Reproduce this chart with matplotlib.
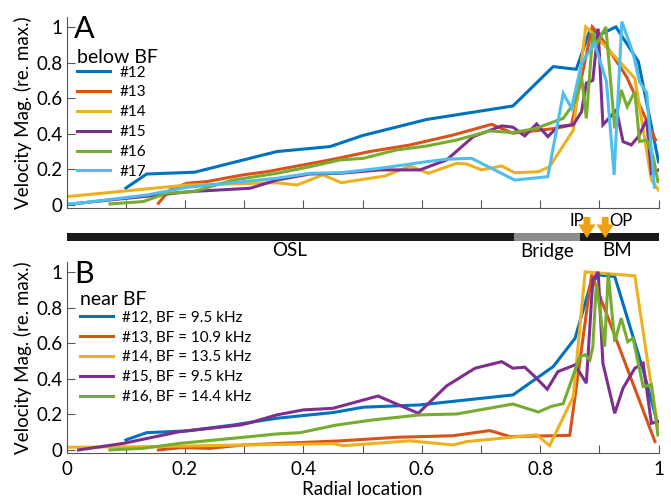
import numpy as np
import matplotlib
matplotlib.use("Agg")
import matplotlib.pyplot as plt

plt.rcParams['font.family'] = ['Lato', 'DejaVu Sans']

# ---------------------------------------------------------------
# Colours (MATLAB default order)
# ---------------------------------------------------------------
colors = ["#0072BD", "#D95319", "#EDB120", "#7E2F8E", "#77AC30", "#4DBEEE"]

# ---------------------------------------------------------------
# Panel A: below BF
# ---------------------------------------------------------------
labels_a = ["#12", "#13", "#14", "#15", "#16", "#17"]

x_a12 = [0.10, 0.135, 0.216, 0.355, 0.445, 0.50, 0.608, 0.754, 0.822, 0.861, 0.884, 0.90, 0.928, 0.966, 1.0]
y_a12 = [0.095, 0.174, 0.184, 0.30, 0.328, 0.39, 0.48, 0.556, 0.777, 0.762, 0.98, 0.955, 1.0, 0.805, 0.243]

x_a13 = [0.155, 0.174, 0.203, 0.236, 0.298, 0.338, 0.445, 0.512, 0.58, 0.653, 0.718, 0.754, 0.828, 0.853, 0.888, 0.90, 0.946, 0.995]
y_a13 = [0.01, 0.084, 0.122, 0.131, 0.169, 0.187, 0.253, 0.30, 0.337, 0.393, 0.453, 0.403, 0.431, 0.45, 1.0, 0.955, 0.72, 0.365]

x_a14 = [0.0, 0.203, 0.355, 0.389, 0.433, 0.464, 0.538, 0.58, 0.611, 0.659, 0.676, 0.701, 0.735, 0.757, 0.797,
         0.816, 0.856, 0.877, 0.895, 0.96, 0.988, 1.0]
y_a14 = [0.047, 0.112, 0.125, 0.112, 0.169, 0.125, 0.163, 0.219, 0.178, 0.234, 0.230, 0.197, 0.219, 0.181, 0.187,
         0.215, 0.42, 1.0, 0.946, 0.712, 0.14, 0.084]

x_a15 = [0.02, 0.129, 0.208, 0.31, 0.355, 0.411, 0.462, 0.529, 0.597, 0.642, 0.687, 0.735, 0.754, 0.774, 0.794,
         0.813, 0.83, 0.856, 0.87, 0.878, 0.889, 0.898, 0.906, 0.929, 0.94, 0.954, 0.966, 0.98, 0.988, 1.0]
y_a15 = [0.01, 0.047, 0.075, 0.094, 0.14, 0.174, 0.178, 0.197, 0.197, 0.253, 0.384, 0.444, 0.437, 0.388, 0.455,
         0.384, 0.44, 0.45, 0.524, 0.684, 0.70, 0.99, 0.45, 0.534, 0.356, 0.337, 0.384, 0.478, 0.178, 0.197]

x_a16 = [0.073, 0.129, 0.169, 0.214, 0.281, 0.355, 0.411, 0.462, 0.501, 0.557, 0.608, 0.659, 0.715, 0.754, 0.794,
         0.839, 0.859, 0.87, 0.878, 0.889, 0.895, 0.911, 0.926, 0.937, 0.947, 0.96, 0.968, 0.98, 0.991, 0.999]
y_a16 = [0.006, 0.019, 0.066, 0.075, 0.14, 0.178, 0.215, 0.253, 0.262, 0.309, 0.331, 0.365, 0.416, 0.406, 0.431,
         0.487, 0.58, 0.72, 0.487, 0.965, 0.90, 1.0, 0.43, 0.646, 0.552, 0.637, 0.356, 0.365, 0.271, 0.131]

x_a17 = [0.0, 0.022, 0.135, 0.203, 0.355, 0.411, 0.462, 0.529, 0.608, 0.642, 0.684, 0.757, 0.813, 0.839, 0.853,
         0.87, 0.892, 0.912, 0.925, 0.938, 0.957, 0.968, 0.98, 0.993]
y_a17 = [0.006, 0.01, 0.056, 0.099, 0.15, 0.178, 0.181, 0.206, 0.243, 0.257, 0.262, 0.14, 0.159, 0.627, 0.543,
         0.796, 0.908, 0.693, 0.169, 1.03, 0.852, 0.693, 0.63, 0.10]

# ---------------------------------------------------------------
# Panel B: near BF
# ---------------------------------------------------------------
labels_b = ["#12, BF = 9.5 kHz", "#13, BF = 10.9 kHz", "#14, BF = 13.5 kHz",
            "#15, BF = 9.5 kHz", "#16, BF = 14.4 kHz"]

x_b12 = [0.10, 0.135, 0.203, 0.281, 0.355, 0.411, 0.45, 0.501, 0.597, 0.754, 0.822, 0.859, 0.884, 0.898, 0.926,
         0.974, 0.996]
y_b12 = [0.056, 0.097, 0.107, 0.14, 0.178, 0.197, 0.21, 0.24, 0.253, 0.309, 0.468, 0.627, 0.917, 0.983, 0.974,
         0.45, 0.178]

x_b13 = [0.155, 0.194, 0.242, 0.298, 0.462, 0.557, 0.653, 0.715, 0.749, 0.85, 0.887, 0.994]
y_b13 = [0.0, 0.013, 0.009, 0.028, 0.051, 0.071, 0.08, 0.109, 0.075, 0.082, 0.985, 0.047]

x_b14 = [0.0, 0.152, 0.298, 0.45, 0.467, 0.58, 0.653, 0.676, 0.794, 0.816, 0.856, 0.876, 0.96, 0.982, 0.999]
y_b14 = [0.015, 0.019, 0.028, 0.035, 0.024, 0.051, 0.028, 0.047, 0.085, 0.024, 0.30, 1.0, 0.978, 0.487, 0.131]

x_b15 = [0.02, 0.096, 0.191, 0.293, 0.31, 0.355, 0.40, 0.45, 0.526, 0.594, 0.642, 0.69, 0.735, 0.754, 0.774,
         0.791, 0.812, 0.83, 0.859, 0.878, 0.889, 0.898, 0.906, 0.926, 0.94, 0.96, 0.974, 0.988, 0.999]
y_b15 = [0.0, 0.037, 0.103, 0.14, 0.153, 0.197, 0.225, 0.234, 0.303, 0.206, 0.36, 0.459, 0.496, 0.459, 0.465,
         0.412, 0.341, 0.44, 0.478, 0.375, 0.955, 1.0, 0.487, 0.206, 0.347, 0.459, 0.487, 0.15, 0.159]

x_b16 = [0.073, 0.129, 0.191, 0.298, 0.355, 0.394, 0.456, 0.518, 0.597, 0.659, 0.754, 0.797, 0.819, 0.839, 0.867,
         0.876, 0.884, 0.889, 0.895, 0.909, 0.915, 0.926, 0.937, 0.948, 0.957, 0.974, 0.988, 0.999]
y_b16 = [0.0, 0.009, 0.037, 0.071, 0.09, 0.097, 0.14, 0.169, 0.197, 0.202, 0.258, 0.213, 0.245, 0.26, 0.524,
         0.534, 0.506, 0.58, 0.936, 0.58, 0.993, 0.608, 0.74, 0.608, 0.627, 0.356, 0.365, 0.084]

# structure bar: regions along the radial axis
osl_end = 0.755
bridge_end = 0.868
ip_pos = 0.879
op_pos = 0.910

# ---------------------------------------------------------------
# Figure
# ---------------------------------------------------------------
fig = plt.figure(figsize=(6.71, 4.98), dpi=100)
left, width = 0.0994, 0.882
ax_a = fig.add_axes([left, 0.5823, width, 0.3837])
ax_b = fig.add_axes([left, 0.0904, width, 0.3836])
ax_s = fig.add_axes([left, 1 - 262 / 498, width, 47 / 498])

series_a = [(x_a12, y_a12), (x_a13, y_a13), (x_a14, y_a14), (x_a15, y_a15), (x_a16, y_a16), (x_a17, y_a17)]
series_b = [(x_b12, y_b12), (x_b13, y_b13), (x_b14, y_b14), (x_b15, y_b15), (x_b16, y_b16)]

for ax, series, labels in [(ax_a, series_a, labels_a), (ax_b, series_b, labels_b)]:
    for (xs, ys), lab, col in zip(series, labels, colors):
        ax.plot(xs, ys, color=col, lw=2.2, label=lab, solid_joinstyle="miter")
    ax.set_xlim(0, 1)
    ax.set_ylim(-0.017, 1.056)
    ax.spines["top"].set_visible(False)
    ax.spines["right"].set_visible(False)
    ax.spines["left"].set_color("#555555")
    ax.spines["bottom"].set_color("#555555")
    ax.spines["bottom"].set_bounds(0, 1)
    ax.set_yticks([0, 0.2, 0.4, 0.6, 0.8, 1.0])
    ax.set_yticklabels(["0", "0.2", "0.4", "0.6", "0.8", "1"])
    ax.set_xticks(np.arange(0, 1.01, 0.1))
    ax.tick_params(direction="in", length=5.5, color="#555555", labelsize=13.5, pad=3)
    ax.tick_params(axis="x", pad=6)
    ax.set_ylabel("Velocity Mag. (re. max.)", fontsize=13.5, labelpad=3)

ax_a.set_xticklabels([])
ax_b.set_xticklabels(["0", "", "0.2", "", "0.4", "", "0.6", "", "0.8", "", "1"])
ax_b.set_xlabel("Radial location", fontsize=13.5, labelpad=2)

# legends (titles drawn as separate text)
leg_kw = dict(loc="upper left", frameon=False, fontsize=11, handlelength=2.15, handletextpad=0.65,
              labelspacing=0.38, borderaxespad=0, borderpad=0)
ax_a.legend(bbox_to_anchor=(0.017, 0.745), **leg_kw)
ax_b.legend(bbox_to_anchor=(0.022, 0.745), **leg_kw)
ax_a.text(0.0174, 0.79, "below BF", transform=ax_a.transAxes, fontsize=14, va="center", ha="left")
ax_b.text(0.0225, 0.805, "near BF", transform=ax_b.transAxes, fontsize=14, va="center", ha="left")

ax_a.text(0.012, 1.012, "A", transform=ax_a.transAxes, fontsize=22, va="top", ha="left")
ax_b.text(0.012, 1.012, "B", transform=ax_b.transAxes, fontsize=22, va="top", ha="left")

# structure bar (pixel-like y coordinates)
ax_s.set_xlim(0, 1)
ax_s.set_ylim(0, 47)
ax_s.axis("off")
ax_s.barh(25, osl_end, height=8, left=0, color="#1a1a1a")
ax_s.barh(25, bridge_end - osl_end, height=8, left=osl_end, color="#8c8c8c")
ax_s.barh(25, 1 - bridge_end, height=8, left=bridge_end, color="#1a1a1a")
ax_s.text(0.377, 11, "OSL", ha="center", va="center", fontsize=13.5)
ax_s.text(0.811, 11, "Bridge", ha="center", va="center", fontsize=13.5)
ax_s.text(0.93, 11, "BM", ha="center", va="center", fontsize=13.5)
for xp in [ip_pos, op_pos]:
    ax_s.annotate("", xy=(xp, 24), xytext=(xp, 45),
                  arrowprops=dict(arrowstyle="simple,head_length=0.7,head_width=0.9,tail_width=0.35",
                                  color="#F0A010", lw=0, mutation_scale=14, shrinkA=0, shrinkB=0))
ax_s.text(ip_pos - 0.004, 41, "IP", ha="right", va="center", fontsize=12)
ax_s.text(op_pos + 0.006, 41, "OP", ha="left", va="center", fontsize=12)

fig.savefig("out.png", dpi=100)
